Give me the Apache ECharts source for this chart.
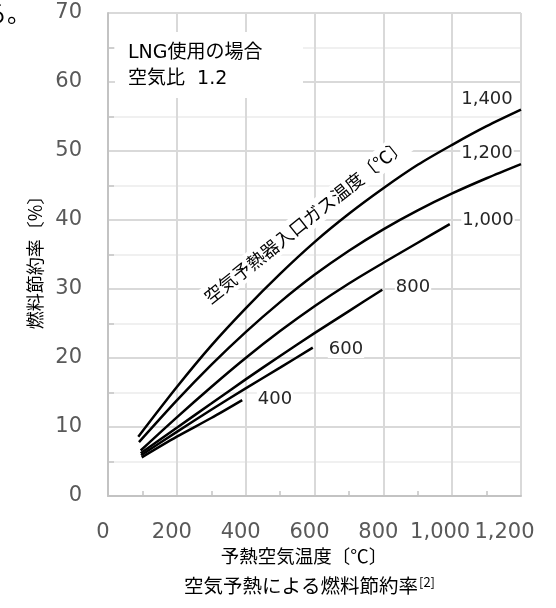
<!DOCTYPE html>
<html>
<head>
<meta charset="utf-8">
<script src="https://cdn.jsdelivr.net/npm/echarts@6/dist/echarts.min.js"></script>
<style>
  html, body { margin: 0; padding: 0; background: #fff; }
  #chart { width: 556px; height: 608px; }
</style>
</head>
<body>
<div id="chart"></div>
<script>
// ---- data ----
const gasTempLabels = ['1,400', '1,200', '1,000', '800', '600', '400'];
const xTicks = [0, 200, 400, 600, 800, 1000, 1200];
const yTicks = [0, 10, 20, 30, 40, 50, 60, 70];

const preheat1400 = [88, 200, 300, 400, 500, 600, 700, 800, 900, 1000, 1100, 1200];
const saving1400  = [8.6, 15.8, 21.8, 27.2, 32.2, 36.8, 40.9, 44.6, 48.0, 50.9, 53.6, 56.0];

const preheat1200 = [90, 200, 300, 400, 500, 600, 700, 800, 900, 1000, 1100, 1200];
const saving1200  = [7.8, 13.85, 19.0, 23.75, 28.1, 32.05, 35.55, 38.65, 41.4, 43.85, 46.05, 48.1];

const preheat1000 = [95, 200, 300, 400, 500, 600, 700, 800, 900, 993];
const saving1000  = [6.6, 11.4, 15.8, 20.0, 23.9, 27.5, 30.8, 33.8, 36.7, 39.4];

const preheat800 = [95, 200, 300, 400, 500, 600, 700, 797];
const saving800  = [6.2, 9.9, 13.4, 16.9, 20.3, 23.6, 26.8, 29.9];

const preheat600 = [96, 200, 300, 400, 500, 595];
const saving600  = [5.9, 9.3, 12.5, 15.6, 18.6, 21.5];

const preheat400 = [98, 200, 300, 390];
const saving400  = [5.6, 8.6, 11.3, 13.9];

const seriesX = [preheat1400, preheat1200, preheat1000, preheat800, preheat600, preheat400];
const seriesY = [saving1400, saving1200, saving1000, saving800, saving600, saving400];

// ---- chart ----
const chart = echarts.init(document.getElementById('chart'), null, { renderer: 'canvas' });

const NUM_FONT = '"DejaVu Sans", "Noto Sans CJK JP"';
const JP_FONT = '"Noto Sans CJK JP", "DejaVu Sans"';

function fmtX(v) {
  const s = v.toLocaleString('en-US');
  if (v === 1000) return '{a|' + s + '}';
  if (v === 1200) return '{b|' + s + '}';
  return '{s|' + s + '}';
}

const series = gasTempLabels.map((name, i) => ({
  name: name,
  type: 'line',
  data: seriesX[i].map((x, j) => [x, seriesY[i][j]]),
  smooth: 0.3,
  showSymbol: false,
  symbol: 'none',
  lineStyle: { color: '#000', width: 2.5 },
  z: 3
}));

const labStyle = { fontSize: 21, fontFamily: NUM_FONT, color: '#595959' };

const option = {
  animation: false,
  backgroundColor: '#fff',
  grid: { left: 108, right: 35, top: 13, bottom: 112, containLabel: false },
  xAxis: {
    type: 'value',
    min: 0, max: 1200, interval: 200,
    axisLine: { show: true, lineStyle: { color: '#c3c3c3', width: 2 } },
    axisTick: { show: false, inside: true },
    minorTick: { show: true, splitNumber: 2, length: 5, lineStyle: { color: '#c3c3c3', width: 1.5 } },
    splitLine: { show: true, lineStyle: { color: '#d9d9d9', width: 2 } },
    minorSplitLine: { show: false },
    axisLabel: {
      margin: 26,
      color: '#595959',
      fontSize: 21,
      fontFamily: NUM_FONT,
      formatter: fmtX,
      rich: {
        s: Object.assign({ padding: [0, 10, 0, 0] }, labStyle),
        a: Object.assign({ padding: [0, 24, 0, 0] }, labStyle),
        b: Object.assign({ padding: [0, 33, 0, 0] }, labStyle)
      }
    }
  },
  yAxis: {
    type: 'value',
    min: 0, max: 70, interval: 10,
    axisLine: { show: true, lineStyle: { color: '#c3c3c3', width: 2 } },
    axisTick: { show: false, inside: true },
    minorTick: { show: true, splitNumber: 2, length: 6, lineStyle: { color: '#c3c3c3', width: 1.5 } },
    splitLine: { show: true, lineStyle: { color: '#d9d9d9', width: 2 } },
    minorSplitLine: { show: true, lineStyle: { color: '#ececec', width: 1.5 } },
    axisLabel: {
      margin: 26,
      color: '#595959',
      fontSize: 21,
      fontFamily: NUM_FONT,
      formatter: v => (yTicks.indexOf(v) >= 0 ? String(v) : '')
    }
  },
  series: series,
  graphic: [
    { type: 'text', x: 31, y: 13, z: 5,
      style: { text: 'る。', font: '24px ' + JP_FONT, fill: '#000', textAlign: 'right', textVerticalAlign: 'middle' } },
    { type: 'rect', z: 1, shape: { x: 115, y: 32, width: 188, height: 66 }, style: { fill: '#fff' } },
    { type: 'text', x: 128, y: 53, z: 5,
      style: { text: 'LNG使用の場合', font: '19px ' + NUM_FONT, fill: '#000', textAlign: 'left', textVerticalAlign: 'middle' } },
    { type: 'text', x: 128, y: 79, z: 5,
      style: { text: '空気比  1.2', font: '19px ' + NUM_FONT, fill: '#000', textAlign: 'left', textVerticalAlign: 'middle' } },
    { type: 'text', x: 305, y: 221, z: 1, rotation: 38.5 * Math.PI / 180,
      style: { text: '空気予熱器入口ガス温度〔℃〕', font: '18px ' + JP_FONT, fill: '#000',
               textAlign: 'center', textVerticalAlign: 'middle', backgroundColor: '#fff', padding: [3, 4] } },
    { type: 'text', x: 487, y: 99, z: 5, style: { text: gasTempLabels[0], font: '18px ' + NUM_FONT, fill: '#262626', textAlign: 'center', textVerticalAlign: 'middle' } },
    { type: 'text', x: 487, y: 153, z: 5, style: { text: gasTempLabels[1], font: '18px ' + NUM_FONT, fill: '#262626', textAlign: 'center', textVerticalAlign: 'middle', backgroundColor: '#fff', padding: [0, 1] } },
    { type: 'text', x: 488, y: 220, z: 5, style: { text: gasTempLabels[2], font: '18px ' + NUM_FONT, fill: '#262626', textAlign: 'center', textVerticalAlign: 'middle', backgroundColor: '#fff', padding: [0, 1] } },
    { type: 'text', x: 413, y: 287, z: 5, style: { text: gasTempLabels[3], font: '18px ' + NUM_FONT, fill: '#262626', textAlign: 'center', textVerticalAlign: 'middle', backgroundColor: '#fff', padding: [0, 1] } },
    { type: 'text', x: 346, y: 349, z: 5, style: { text: gasTempLabels[4], font: '18px ' + NUM_FONT, fill: '#262626', textAlign: 'center', textVerticalAlign: 'middle', backgroundColor: '#fff', padding: [0, 1] } },
    { type: 'text', x: 275, y: 399, z: 5, style: { text: gasTempLabels[5], font: '18px ' + NUM_FONT, fill: '#262626', textAlign: 'center', textVerticalAlign: 'middle', backgroundColor: '#fff', padding: [0, 1] } },
    { type: 'text', x: 35, y: 258, z: 5, rotation: Math.PI / 2,
      style: { text: '燃料節約率〔%〕', font: '18px ' + JP_FONT, fill: '#000', textAlign: 'center', textVerticalAlign: 'middle' } },
    { type: 'text', x: 304, y: 556, z: 5,
      style: { text: '予熱空気温度〔℃〕', font: '18.5px ' + JP_FONT, fill: '#000', textAlign: 'center', textVerticalAlign: 'middle' } },
    { type: 'text', x: 184, y: 586, z: 5,
      style: { text: '空気予熱による燃料節約率', font: '19.5px ' + JP_FONT, fill: '#000', textAlign: 'left', textVerticalAlign: 'middle' } },
    { type: 'text', x: 419, y: 582, z: 5,
      style: { text: '[2]', font: '13px ' + JP_FONT, fill: '#000', textAlign: 'left', textVerticalAlign: 'middle' } }
  ]
};

chart.setOption(option);
</script>
</body>
</html>
